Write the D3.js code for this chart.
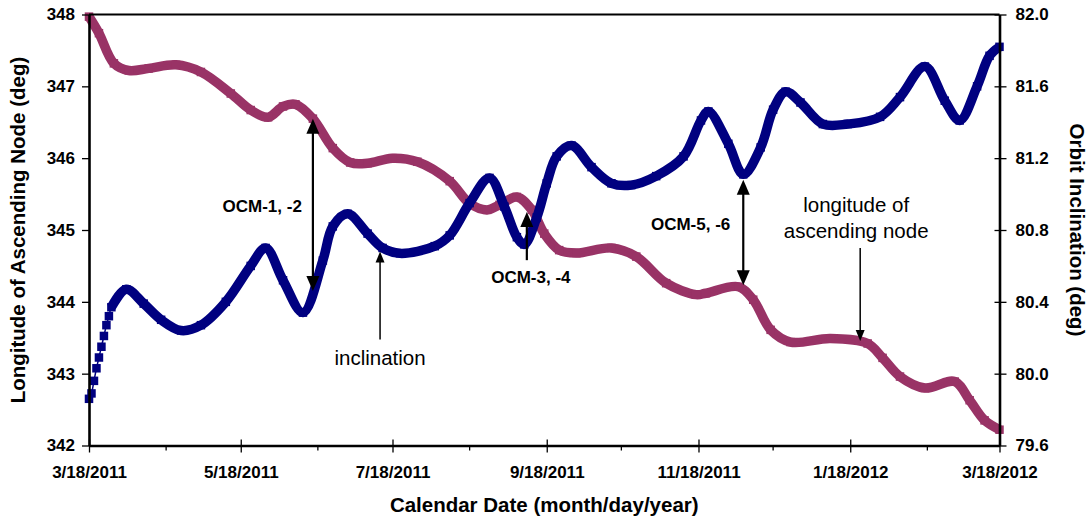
<!DOCTYPE html>
<html>
<head>
<meta charset="utf-8">
<script src="https://cdn.jsdelivr.net/npm/d3@7"></script>
<style>
  html, body { margin: 0; padding: 0; background: #fff; }
  svg { display: block; font-family: "Liberation Sans", Arial, Helvetica, sans-serif; }
</style>
</head>
<body>
<svg id="chart" width="1088" height="520"></svg>
<script>
// Longitude of ascending node (deg) - left axis
const lanDates = [
  "2011-03-18","2011-03-22","2011-03-28","2011-04-03","2011-04-11","2011-04-22",
  "2011-05-02","2011-05-14","2011-05-22","2011-05-29","2011-06-04","2011-06-09",
  "2011-06-16","2011-06-24","2011-07-01","2011-07-08","2011-07-18","2011-07-28",
  "2011-08-10","2011-08-18","2011-08-25","2011-08-30","2011-09-06","2011-09-12",
  "2011-09-17","2011-09-23","2011-09-30","2011-10-14","2011-10-24","2011-11-05",
  "2011-11-17","2011-11-21","2011-12-04","2011-12-10","2011-12-17","2011-12-25",
  "2012-01-10","2012-01-25","2012-01-31","2012-02-07","2012-02-17","2012-02-29",
  "2012-03-06","2012-03-12","2012-03-18"
];
const lanValues = [
  347.97, 347.74, 347.32, 347.22, 347.25, 347.30,
  347.20, 346.90, 346.67, 346.57, 346.72, 346.75,
  346.55, 346.14, 345.94, 345.93, 346.00, 345.95,
  345.68, 345.37, 345.28, 345.35, 345.46, 345.28,
  344.95, 344.72, 344.68, 344.75, 344.63, 344.26,
  344.10, 344.12, 344.21, 344.03, 343.61, 343.44,
  343.49, 343.42, 343.22, 342.96, 342.80, 342.89,
  342.63, 342.35, 342.22
];

// Orbit inclination (deg) - right axis
const incDates = [
  "2011-03-18","2011-03-19","2011-03-20","2011-03-21","2011-03-22","2011-03-23",
  "2011-03-24","2011-03-25","2011-03-26","2011-03-27","2011-04-02","2011-04-09",
  "2011-04-16","2011-04-24","2011-05-02","2011-05-12","2011-05-22","2011-05-28",
  "2011-06-04","2011-06-12","2011-06-20","2011-06-24","2011-06-30","2011-07-08",
  "2011-07-14","2011-07-21","2011-08-04","2011-08-10","2011-08-18","2011-08-26",
  "2011-09-01","2011-09-06","2011-09-09","2011-09-14","2011-09-18","2011-09-22",
  "2011-09-28","2011-10-06","2011-10-14","2011-10-22","2011-11-01","2011-11-12",
  "2011-11-19","2011-11-22","2011-11-30","2011-12-06","2011-12-13","2011-12-18",
  "2011-12-23","2011-12-29","2012-01-07","2012-01-17","2012-01-30","2012-02-07",
  "2012-02-17","2012-02-25","2012-03-02","2012-03-09","2012-03-14","2012-03-18"
];
const incValues = [
  79.86, 79.89, 79.96, 80.03, 80.09, 80.15,
  80.21, 80.27, 80.32, 80.37, 80.47, 80.39,
  80.30, 80.24, 80.27, 80.40, 80.60, 80.70,
  80.52, 80.34, 80.63, 80.82, 80.89, 80.78,
  80.70, 80.67, 80.71, 80.77, 80.95, 81.09,
  80.93, 80.76, 80.72, 80.87, 81.06, 81.21,
  81.27, 81.15, 81.06, 81.05, 81.10, 81.21,
  81.41, 81.46, 81.28, 81.11, 81.26, 81.47,
  81.57, 81.51, 81.39, 81.39, 81.43, 81.54,
  81.71, 81.52, 81.41, 81.60, 81.77, 81.82
];

// Axis ticks
const leftTicks = [342, 343, 344, 345, 346, 347, 348];
const rightTicks = [79.6, 80.0, 80.4, 80.8, 81.2, 81.6, 82.0];
const xMajorDates = ["2011-03-18","2011-05-18","2011-07-18","2011-09-18","2011-11-18","2012-01-18","2012-03-18"];
const xMinorDates = ["2011-04-18","2011-06-18","2011-08-18","2011-10-18","2011-12-18","2012-02-18"];

// Manoeuvre and series annotations
const annotations = [
  { label: "OCM-1, -2", date: "2011-06-16", from: { axis: "left", v: 346.55 }, to: { axis: "right", v: 80.46 }, heads: "both" },
  { label: "OCM-3, -4", date: "2011-09-10", from: { axis: "left", v: 345.25 }, to: { axis: "left", v: 344.58 }, heads: "top" },
  { label: "OCM-5, -6", date: "2011-12-06", from: { axis: "right", v: 81.08 }, to: { axis: "left", v: 344.23 }, heads: "both" },
  { label: "inclination", date: "2011-07-13", from: { axis: "right", v: 80.68 }, to: { axis: "right", v: 80.19 }, heads: "top" },
  { label: "longitude of|ascending node", date: "2012-01-22", from: { axis: "left", v: 344.75 }, to: { axis: "left", v: 343.455 }, heads: "bottom" }
];

const parse = d3.timeParse("%Y-%m-%d");
const fmt = d3.timeFormat("%-m/%-d/%Y");

const svg = d3.select("#chart");
const plotL = 89, plotR = 999.5, plotT = 14.5, plotB = 445.5;

const x = d3.scaleTime().domain([parse("2011-03-18"), parse("2012-03-18")]).range([plotL, plotR]);
const yL = d3.scaleLinear().domain([342, 348]).range([plotB, plotT]);
const yR = d3.scaleLinear().domain([79.6, 82.0]).range([plotB, plotT]);
const scaleFor = a => (a === "left" ? yL : yR);

const lan = lanDates.map((d, i) => ({ date: parse(d), v: lanValues[i] }));
const inc = incDates.map((d, i) => ({ date: parse(d), v: incValues[i] }));

// Series: thin connecting line, thick marker band, square markers
function drawSeries(data, yScale, color, bandFrom) {
  const line = d3.line()
    .x(d => x(d.date))
    .y(d => yScale(d.v))
    .curve(d3.curveCatmullRom.alpha(0.5));
  const g = svg.append("g");
  g.append("path").attr("d", line(data.slice(bandFrom)))
    .attr("fill", "none").attr("stroke", color)
    .attr("stroke-width", 9.5).attr("stroke-linejoin", "round");
  g.append("path").attr("d", line(data))
    .attr("fill", "none").attr("stroke", color).attr("stroke-width", 1.5);
  const s = 8.5;
  g.selectAll("rect").data(data).join("rect")
    .attr("x", d => x(d.date) - s / 2)
    .attr("y", d => yScale(d.v) - s / 2)
    .attr("width", s).attr("height", s)
    .attr("fill", color);
}

drawSeries(lan, yL, "#993366", 0);
drawSeries(inc, yR, "#000080", 9);

// Frame top edge
svg.append("line").attr("x1", plotL).attr("x2", plotR).attr("y1", plotT).attr("y2", plotT)
  .attr("stroke", "#000").attr("stroke-width", 2.2);

const tickFont = g => g.selectAll("text")
  .attr("font-size", 17).attr("font-weight", "bold").attr("fill", "#000")
  .attr("font-family", "'Liberation Sans', Arial, sans-serif");

// Left axis
const gL = svg.append("g").attr("transform", `translate(${plotL},0)`)
  .call(d3.axisLeft(yL).tickValues(leftTicks).tickSize(7).tickSizeOuter(0).tickPadding(7).tickFormat(d3.format("d")));
gL.select(".domain").attr("stroke", "#000").attr("stroke-width", 2.6);
gL.selectAll(".tick line").attr("stroke", "#000").attr("stroke-width", 1.3);
gL.call(tickFont);

// Right axis
const gR = svg.append("g").attr("transform", `translate(${plotR},0)`)
  .call(d3.axisRight(yR).tickValues(rightTicks).tickSize(7).tickSizeOuter(0).tickPadding(9).tickFormat(d3.format(".1f")));
gR.select(".domain").attr("stroke", "#000").attr("stroke-width", 2.6);
gR.selectAll(".tick line").attr("x1", -5).attr("stroke", "#000").attr("stroke-width", 1.3);
gR.call(tickFont);

// Bottom axis with minor ticks
const gB = svg.append("g").attr("transform", `translate(0,${plotB})`)
  .call(d3.axisBottom(x).tickValues(xMajorDates.map(parse)).tickSize(7).tickSizeOuter(0).tickPadding(13).tickFormat(fmt));
gB.select(".domain").attr("stroke", "#000").attr("stroke-width", 2.6);
gB.selectAll(".tick line").attr("y1", -6).attr("stroke", "#000").attr("stroke-width", 1.3);
gB.call(tickFont);
gB.selectAll(".minor").data(xMinorDates.map(parse)).join("line")
  .attr("class", "minor")
  .attr("x1", d => x(d)).attr("x2", d => x(d))
  .attr("y1", 0).attr("y2", 5)
  .attr("stroke", "#000").attr("stroke-width", 1.3);

// Axis titles
svg.append("text")
  .attr("transform", `translate(25,${(plotT + plotB) / 2}) rotate(-90)`)
  .attr("text-anchor", "middle").attr("font-size", 20.5).attr("font-weight", "bold")
  .text("Longitude of Ascending Node (deg)");
svg.append("text")
  .attr("transform", `translate(1070,${(plotT + plotB) / 2}) rotate(90)`)
  .attr("text-anchor", "middle").attr("font-size", 20.5).attr("font-weight", "bold")
  .text("Orbit Inclination (deg)");
svg.append("text")
  .attr("x", (plotL + plotR) / 2).attr("y", 512)
  .attr("text-anchor", "middle").attr("font-size", 20.5).attr("font-weight", "bold")
  .text("Calendar Date (month/day/year)");

// Annotation arrows and labels
function head(g, xp, yTip, up, len, hw) {
  const yb = up ? yTip + len : yTip - len;
  g.append("path").attr("d", `M${xp},${yTip}L${xp - hw},${yb}L${xp + hw},${yb}Z`).attr("fill", "#000");
}

const labelStyle = {
  "OCM-1, -2":  { anchor: "end",    dx: -11, dy: [212], bold: true },
  "OCM-3, -4":  { anchor: "middle", dx: 4,   dy: [283], bold: true },
  "OCM-5, -6":  { anchor: "end",    dx: -13, dy: [230], bold: true },
  "inclination": { anchor: "middle", dx: 0,  dy: [365], bold: false },
  "longitude of|ascending node": { anchor: "middle", dx: -4, dy: [212, 238], bold: false }
};

annotations.forEach(a => {
  const g = svg.append("g");
  const xp = x(parse(a.date));
  const y1 = scaleFor(a.from.axis)(a.from.v);
  const y2 = scaleFor(a.to.axis)(a.to.v);
  const st = labelStyle[a.label];
  const bold = st.bold;
  const len = bold ? 15 : 11, hw = bold ? 6.5 : 4.5;
  const ya = a.heads === "both" || a.heads === "top" ? y1 + len - 1 : y1;
  const yb = a.heads === "both" || a.heads === "bottom" ? y2 - len + 1 : y2;
  g.append("line").attr("x1", xp).attr("x2", xp).attr("y1", ya).attr("y2", yb)
    .attr("stroke", "#000").attr("stroke-width", bold ? 2.2 : 1.5);
  if (a.heads === "both" || a.heads === "top") head(g, xp, y1, true, len, hw);
  if (a.heads === "both" || a.heads === "bottom") head(g, xp, y2, false, len, hw);
  a.label.split("|").forEach((t, i) => {
    g.append("text").attr("x", xp + st.dx).attr("y", st.dy[i])
      .attr("text-anchor", st.anchor)
      .attr("font-size", bold ? 17 : 20.5)
      .attr("font-weight", bold ? "bold" : "normal")
      .text(t);
  });
});
</script>
</body>
</html>
